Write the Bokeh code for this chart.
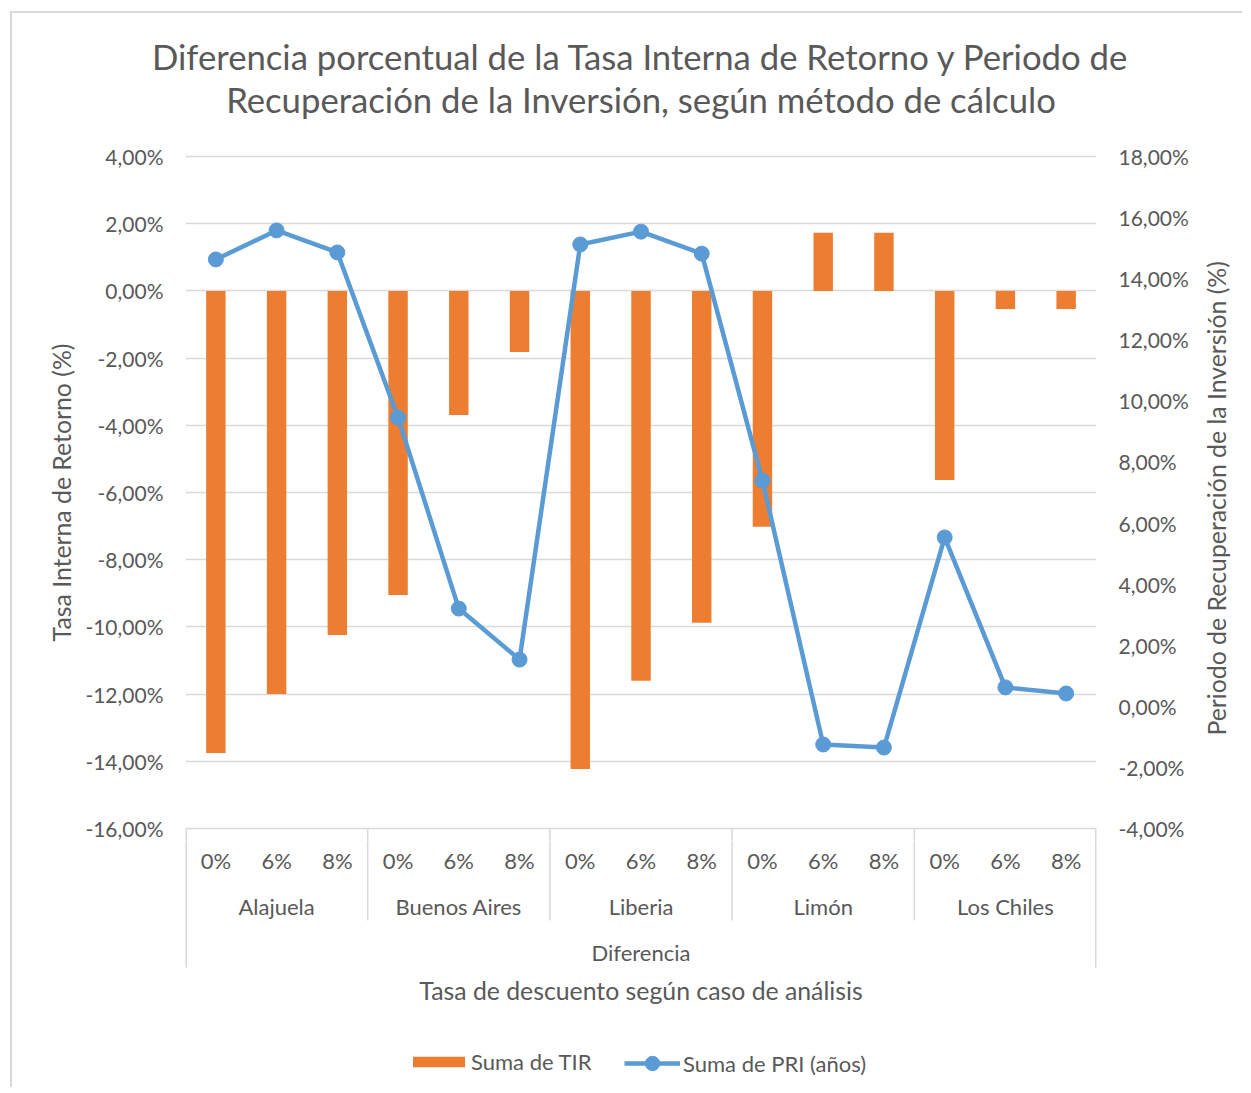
import math
from bokeh.plotting import figure
from bokeh.layouts import column, row
from bokeh.models import Range1d, LinearAxis, FixedTicker, Legend, LegendItem, ColumnDataSource, Title
from bokeh.core.properties import value
from bokeh.embed import file_html
from bokeh.resources import INLINE

# ---------------- data ----------------
cities = ["Alajuela", "Buenos Aires", "Liberia", "Limón", "Los Chiles"]
rates = ["0%", "6%", "8%"]
group_label = "Diferencia"
tir = [-13.75, -12.00, -10.24, -9.05, -3.69, -1.82, -14.23, -11.60, -9.88,
       -7.02, 1.73, 1.73, -5.63, -0.54, -0.54]
pri = [14.63, 15.58, 14.86, 9.45, 3.20, 1.53, 15.12, 15.54, 14.82,
       7.39, -1.25, -1.35, 5.53, 0.62, 0.42]
left_ticks = list(range(-16, 5, 2))
right_ticks = list(range(-4, 19, 2))
title_lines = ["Diferencia porcentual de la Tasa Interna de Retorno y Periodo de",
               "Recuperación de la Inversión, según método de cálculo"]
x_title = "Tasa de descuento según caso de análisis"
left_title = "Tasa Interna de Retorno (%)"
right_title = "Periodo de Recuperación de la Inversión (%)"
legend_tir = "Suma de TIR"
legend_pri = "Suma de PRI (años)"

# ---------------- style / layout ----------------
FONT = "Lato"
TXT = "#595959"
GRID = "#D9D9D9"
ORANGE = "#ED7D31"
BLUE = "#5B9BD5"
TICK_FS = "21px"
CAT_FS = "22px"
AXT_FS = "24.8px"
TITLE_FS = "34.7px"

ML = 185                 # left border of plot figures
FRAME_W = 911
MR1 = 100                # right tick-label band of the main figure
WR = 46                  # right axis-title strip
W = ML + FRAME_W + MR1 + WR
H0 = 132                 # title strip
T_FRAME = 13             # empty frame under the title panels
PAD = 12                 # frame extends PAD px beyond outer ticks
MT1 = 12
AXIS_PX = 672
H1 = MT1 + AXIS_PX + 2 * PAD
H2 = 247
px_left = AXIS_PX / (left_ticks[-1] - left_ticks[0])
px_right = AXIS_PX / (right_ticks[-1] - right_ticks[0])
ncat = len(cities) * len(rates)
nr = len(rates)

def fmt(v):
    return f"{v:.2f}%".replace(".", ",")

def clean(fig):
    fig.outline_line_color = None
    fig.border_fill_alpha = 0
    for g in fig.grid:
        g.visible = False

# ---------------- title strip ----------------
t = figure(width=W, height=H0, output_backend="svg", toolbar_location=None,
           x_axis_location=None, y_axis_location=None,
           min_border_top=H0 - T_FRAME, min_border_bottom=0,
           min_border_left=ML, min_border_right=W - ML - FRAME_W,
           x_range=Range1d(0, 1), y_range=Range1d(0, 1))
clean(t)
t.background_fill_alpha = 0
for line in reversed(title_lines):
    t.add_layout(Title(text=line, align="center", text_font=FONT,
                       text_font_size=TITLE_FS, text_font_style="normal",
                       text_color=TXT, standoff=0), "above")

# ---------------- main plot ----------------
xr = Range1d(0, ncat)
p = figure(width=ML + FRAME_W + MR1, height=H1, output_backend="svg",
           toolbar_location=None, x_axis_location=None,
           min_border_left=ML, min_border_right=MR1, min_border_top=MT1,
           min_border_bottom=0, x_range=xr,
           y_range=Range1d(left_ticks[0] - PAD / px_left, left_ticks[-1] + PAD / px_left))
p.outline_line_color = None
p.background_fill_color = "white"
p.border_fill_alpha = 0
for g in p.grid:
    if g.dimension == 0:
        g.visible = False

lt = FixedTicker(ticks=left_ticks)
la = p.yaxis[0]
la.ticker = lt
p.ygrid.ticker = lt
p.ygrid.grid_line_color = GRID
p.ygrid.grid_line_width = 1.5
la.major_label_overrides = {v: fmt(v) for v in left_ticks}
la.axis_label = left_title
la.axis_label_standoff = 6

p.extra_y_ranges = {"pri": Range1d(right_ticks[0] - PAD / px_right,
                                   right_ticks[-1] + PAD / px_right)}
ra = LinearAxis(y_range_name="pri", ticker=FixedTicker(ticks=right_ticks))
ra.major_label_overrides = {v: fmt(v) for v in right_ticks}
p.add_layout(ra, "right")

for ax in (la, ra):
    ax.axis_line_color = None
    ax.major_tick_line_color = None
    ax.minor_tick_line_color = None
    ax.major_tick_out = 0
    ax.major_tick_in = 0
    ax.major_label_standoff = 22
    ax.major_label_text_font = FONT
    ax.major_label_text_font_size = TICK_FS
    ax.major_label_text_color = TXT
    ax.axis_label_text_font = FONT
    ax.axis_label_text_font_size = AXT_FS
    ax.axis_label_text_font_style = "normal"
    ax.axis_label_text_color = TXT

xs = [i + 0.5 for i in range(ncat)]
src = ColumnDataSource(dict(x=xs, tir=tir, pri=pri))
p.vbar(x="x", top="tir", bottom=0, width=0.32, source=src,
       fill_color=ORANGE, line_color=None)
p.line(x="x", y="pri", source=src, y_range_name="pri", line_color=BLUE, line_width=4.5)
p.scatter(x="x", y="pri", source=src, y_range_name="pri", size=15,
          fill_color=BLUE, line_color=BLUE)

# ---------------- right axis title strip ----------------
r = figure(width=WR, height=H1, output_backend="svg", toolbar_location=None,
           x_axis_location=None, y_axis_location=None, min_border=0,
           x_range=Range1d(0, WR), y_range=Range1d(0, H1))
clean(r)
r.background_fill_alpha = 0
mid_page = 493 - (1 + H0)          # vertical middle of the tick span, from strip top
r.text(x=[20], y=[H1 - mid_page], text=[right_title], angle=math.pi / 2,
       text_font=value(FONT), text_font_size=value(AXT_FS), text_color=TXT,
       text_align="center", text_baseline="middle")

# ---------------- lower part: category axis & legend ----------------
base = left_ticks[0]
q = figure(width=W, height=H2, output_backend="svg", toolbar_location=None,
           x_axis_location=None, y_axis_location=None,
           min_border_left=ML, min_border_right=W - ML - FRAME_W, min_border_top=0,
           min_border_bottom=0, x_range=xr,
           y_range=Range1d(base - (PAD + H2) / px_left, base - PAD / px_left))
clean(q)
q.background_fill_color = "white"

sub_y = base - 32 / px_left
city_y = base - 78 / px_left
grp_y = base - 124 / px_left
xt_y = base - 162 / px_left
sep_bottom = base - 92 / px_left
outer_bottom = base - 139 / px_left

seps = [nr * g for g in range(1, len(cities))]
for fig in (p, q):
    fig.segment(x0=seps, y0=[base] * len(seps), x1=seps, y1=[sep_bottom] * len(seps),
                line_color=GRID, line_width=1.5)
    fig.segment(x0=[0, ncat], y0=[base, base], x1=[0, ncat], y1=[outer_bottom] * 2,
                line_color=GRID, line_width=3)

q.text(x=xs, y=[sub_y] * ncat, text=rates * len(cities),
       text_font=value(FONT), text_font_size=value(CAT_FS), text_color=TXT,
       text_align="center", text_baseline="middle")
q.text(x=[nr * g + nr / 2 for g in range(len(cities))], y=[city_y] * len(cities),
       text=cities, text_font=value(FONT), text_font_size=value(CAT_FS),
       text_color=TXT, text_align="center", text_baseline="middle")
q.text(x=[ncat / 2], y=[grp_y], text=[group_label], text_font=value(FONT),
       text_font_size=value(CAT_FS), text_color=TXT, text_align="center",
       text_baseline="middle")
q.text(x=[ncat / 2], y=[xt_y], text=[x_title], text_font=value(FONT),
       text_font_size=value(AXT_FS), text_color=TXT, text_align="center",
       text_baseline="middle")

# legend keys: the same series, mapped through ranges that keep them off-canvas
q.extra_x_ranges = {"key": Range1d(ncat * 10, ncat * 11)}
q.extra_y_ranges = {"key": Range1d(1000, 1001)}
bars_key = q.vbar(x="x", top="tir", bottom=0, width=0.32, source=src,
                  x_range_name="key", y_range_name="key",
                  fill_color=ORANGE, line_color=None)
ln_key = q.line(x="x", y="pri", source=src, x_range_name="key", y_range_name="key",
                line_color=BLUE, line_width=4.5)
sc_key = q.scatter(x="x", y="pri", source=src, x_range_name="key", y_range_name="key",
                   size=15, fill_color=BLUE, line_color=BLUE)

common = dict(border_line_color=None, background_fill_alpha=0, padding=0, margin=0,
              label_text_font=FONT, label_text_font_size=CAT_FS,
              label_text_color=TXT, spacing=0)
leg1 = Legend(items=[LegendItem(label=legend_tir, renderers=[bars_key])],
              location=(221, 12), glyph_width=65, glyph_height=13,
              label_standoff=0, **common)
leg2 = Legend(items=[LegendItem(label=legend_pri, renderers=[ln_key, sc_key])],
              location=(439, 6), glyph_width=56, glyph_height=36,
              label_standoff=3, **common)
q.add_layout(leg1)
q.add_layout(leg2)

layout = column(t, row(p, r), q)
layout.styles = {
    "background-image": "linear-gradient(#D9D9D9, #D9D9D9), linear-gradient(#D9D9D9, #D9D9D9)",
    "background-size": "2px 100%, 100% 2px",
    "background-position": "10px 11px, 10px 11px",
    "background-repeat": "no-repeat",
}

open("out.html", "w").write(file_html(layout, INLINE))
